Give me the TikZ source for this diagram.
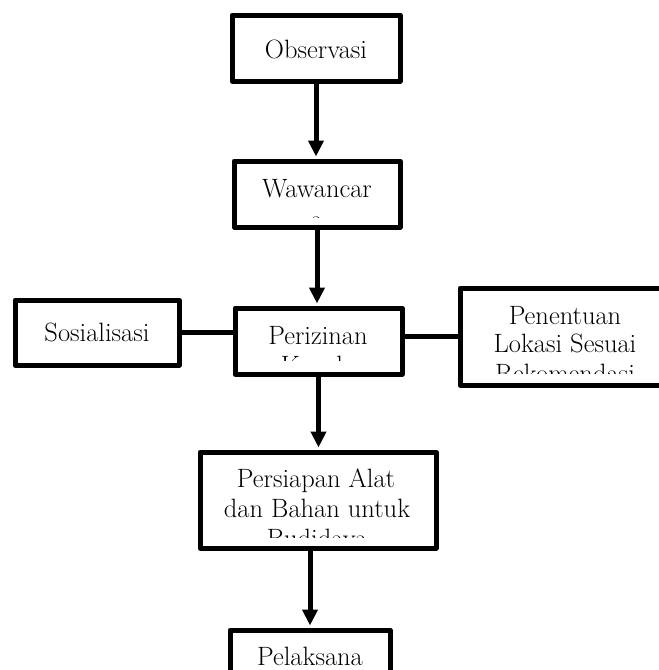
\documentclass[tikz,border=0pt]{standalone}
\usetikzlibrary{arrows.meta}
\begin{document}
\begin{tikzpicture}[x=1pt,y=-1pt,
  box/.style 2 args={draw, line width=5pt, line join=round, fill=white,
    minimum width=#1, minimum height=#2, inner sep=0pt},
  lbl/.style={anchor=base, inner sep=0pt, font=\fontsize{26.5}{31}\selectfont},
  conn/.style={line width=5pt},
  arr/.style={conn, -{Triangle[length=16pt,width=15pt]}, shorten >=2pt}]
\useasboundingbox (0,0) rectangle (659,670);
\clip (0,0) rectangle (659,670);
% boxes
\node[box={168}{66}] (obs) at (316,48) {};
\node[box={166}{66}] (waw) at (317,194) {};
\node[box={164}{65}] (sos) at (97,332.5) {};
\node[box={167}{66}] (per) at (318.5,341) {};
\node[box={210}{97}] (pen) at (565,336.5) {};
\node[box={236}{96}] (prs) at (318,500) {};
\node[box={160}{66}] (pel) at (310,663) {};
% texts
\node[lbl] (tobs) at (316,58) {Observasi};
\begin{scope}
  \clip (230,159) rectangle (404,217);
  \node[lbl] (twaw1) at (317,197) {Wawancar};
  \node[lbl] (twaw2) at (317,228) {a};
\end{scope}
\node[lbl] (tsos) at (97,341) {Sosialisasi};
\begin{scope}
  \clip (233,306) rectangle (404,360);
  \node[lbl] (tper1) at (318,344) {Perizinan};
  \node[lbl] (tper2) at (318,374) {Kepala};
\end{scope}
\begin{scope}
  \clip (460,286) rectangle (670,373);
  \node[lbl] (tpen1) at (565,324) {Penentuan};
  \node[lbl] (tpen2) at (565,352) {Lokasi Sesuai};
  \node[lbl] (tpen3) at (565,382) {Rekomendasi};
\end{scope}
\begin{scope}
  \clip (198,450) rectangle (438,537);
  \node[lbl] (tprs1) at (316,487) {Persiapan Alat};
  \node[lbl] (tprs2) at (317,517) {dan Bahan untuk};
  \node[lbl] (tprs3) at (317,547) {Budidaya};
\end{scope}
\node[lbl] (tpel) at (310,665) {Pelaksana};
% connectors
\draw[arr] (obs.south) -- (obs.south |- waw.north);
\draw[arr] (waw.south) -- (waw.south |- per.north);
\draw[conn] (sos.east) -- (sos.east -| per.west);
\draw[conn] (pen.west) -- (pen.west -| per.east);
\draw[arr] (per.south) -- (per.south |- prs.north);
\draw[arr] (pel.north |- prs.south) -- (pel.north);
\end{tikzpicture}
\end{document}
